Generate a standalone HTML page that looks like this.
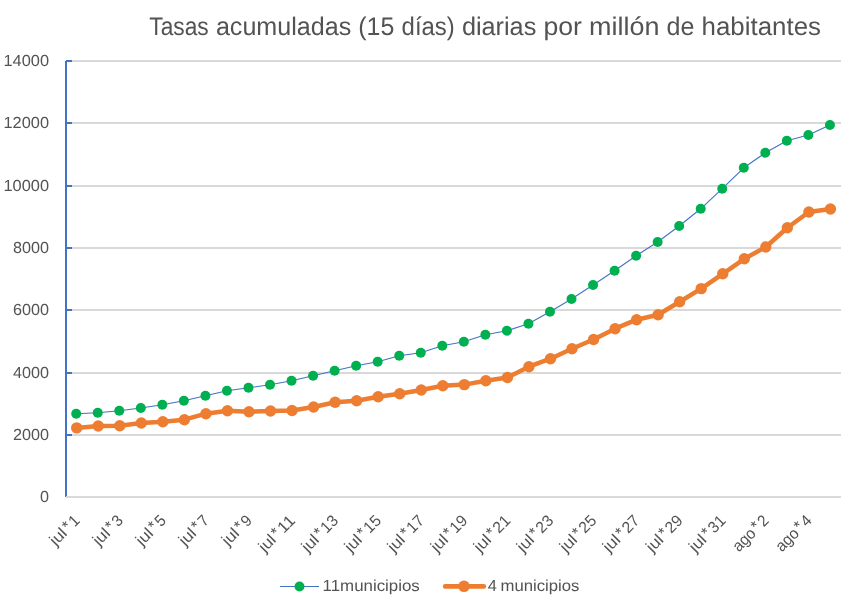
<!DOCTYPE html>
<html lang="es">
<head>
<meta charset="utf-8">
<title>Tasas acumuladas (15 días) diarias por millón de habitantes</title>
<style>
html,body{margin:0;padding:0;background:#fff;}
body{width:852px;height:604px;overflow:hidden;}
svg{display:block;}
text{font-family:"Liberation Sans",sans-serif;fill:#535353;text-rendering:geometricPrecision;}
</style>
</head>
<body>
<svg width="852" height="604" viewBox="0 0 852 604">
<rect x="0" y="0" width="852" height="604" fill="#ffffff"/>
<text y="35" font-size="25.4"><tspan x="149.3" textLength="59.4" lengthAdjust="spacingAndGlyphs">Tasas</tspan> <tspan x="215.9" textLength="135.3" lengthAdjust="spacingAndGlyphs">acumuladas</tspan> <tspan x="358.3" textLength="36.1" lengthAdjust="spacingAndGlyphs">(15</tspan> <tspan x="401.6" textLength="53.2" lengthAdjust="spacingAndGlyphs">días)</tspan> <tspan x="461.9" textLength="74.4" lengthAdjust="spacingAndGlyphs">diarias</tspan> <tspan x="543.4" textLength="38.5" lengthAdjust="spacingAndGlyphs">por</tspan> <tspan x="589.1" textLength="70.4" lengthAdjust="spacingAndGlyphs">millón</tspan> <tspan x="666.6" textLength="27.9" lengthAdjust="spacingAndGlyphs">de</tspan> <tspan x="701.6" textLength="119.4" lengthAdjust="spacingAndGlyphs">habitantes</tspan></text>
<g fill="#d9d9d9" shape-rendering="crispEdges">
<rect x="66" y="60" width="775" height="2"/>
<rect x="66" y="122" width="775" height="2"/>
<rect x="66" y="185" width="775" height="2"/>
<rect x="66" y="247" width="775" height="2"/>
<rect x="66" y="309" width="775" height="2"/>
<rect x="66" y="372" width="775" height="2"/>
<rect x="66" y="434" width="775" height="2"/>
</g>
<g fill="#4472c4" shape-rendering="crispEdges">
<rect x="65" y="61" width="1" height="436"/>
<rect x="66" y="60" width="1" height="436"/>
<rect x="66" y="60" width="6" height="2"/>
<rect x="66" y="122" width="6" height="2"/>
<rect x="66" y="185" width="6" height="2"/>
<rect x="66" y="247" width="6" height="2"/>
<rect x="66" y="309" width="6" height="2"/>
<rect x="66" y="372" width="6" height="2"/>
<rect x="66" y="434" width="6" height="2"/>
</g>
<rect x="66" y="496" width="775" height="2" fill="#d9d9d9" shape-rendering="crispEdges"/>
<g font-size="16" text-anchor="end">
<text x="49.0" y="66.0" textLength="45.5" lengthAdjust="spacingAndGlyphs">14000</text>
<text x="49.0" y="128.0" textLength="45.5" lengthAdjust="spacingAndGlyphs">12000</text>
<text x="49.0" y="191.0" textLength="45.5" lengthAdjust="spacingAndGlyphs">10000</text>
<text x="49.0" y="253.0" textLength="36.0" lengthAdjust="spacingAndGlyphs">8000</text>
<text x="49.0" y="315.0" textLength="36.0" lengthAdjust="spacingAndGlyphs">6000</text>
<text x="49.0" y="378.0" textLength="36.0" lengthAdjust="spacingAndGlyphs">4000</text>
<text x="49.0" y="440.0" textLength="36.0" lengthAdjust="spacingAndGlyphs">2000</text>
<text x="49.0" y="502.0" textLength="9.0" lengthAdjust="spacingAndGlyphs">0</text>
</g>
<g font-size="16">
<text transform="translate(81.06 521.30) rotate(-45)"><tspan x="-35.7" textLength="17.3" lengthAdjust="spacingAndGlyphs">jul</tspan><tspan x="-16.7" dy="-1.6">*</tspan><tspan x="-8.8" dy="1.6" textLength="8.5" lengthAdjust="spacingAndGlyphs">1</tspan></text>
<text transform="translate(124.12 521.30) rotate(-45)"><tspan x="-35.7" textLength="17.3" lengthAdjust="spacingAndGlyphs">jul</tspan><tspan x="-16.7" dy="-1.6">*</tspan><tspan x="-8.8" dy="1.6" textLength="8.5" lengthAdjust="spacingAndGlyphs">3</tspan></text>
<text transform="translate(167.18 521.30) rotate(-45)"><tspan x="-35.7" textLength="17.3" lengthAdjust="spacingAndGlyphs">jul</tspan><tspan x="-16.7" dy="-1.6">*</tspan><tspan x="-8.8" dy="1.6" textLength="8.5" lengthAdjust="spacingAndGlyphs">5</tspan></text>
<text transform="translate(210.23 521.30) rotate(-45)"><tspan x="-35.7" textLength="17.3" lengthAdjust="spacingAndGlyphs">jul</tspan><tspan x="-16.7" dy="-1.6">*</tspan><tspan x="-8.8" dy="1.6" textLength="8.5" lengthAdjust="spacingAndGlyphs">7</tspan></text>
<text transform="translate(253.29 521.30) rotate(-45)"><tspan x="-35.7" textLength="17.3" lengthAdjust="spacingAndGlyphs">jul</tspan><tspan x="-16.7" dy="-1.6">*</tspan><tspan x="-8.8" dy="1.6" textLength="8.5" lengthAdjust="spacingAndGlyphs">9</tspan></text>
<text transform="translate(296.34 521.30) rotate(-45)"><tspan x="-44.8" textLength="17.3" lengthAdjust="spacingAndGlyphs">jul</tspan><tspan x="-25.8" dy="-1.6">*</tspan><tspan x="-17.9" dy="1.6" textLength="17.6" lengthAdjust="spacingAndGlyphs">11</tspan></text>
<text transform="translate(339.40 521.30) rotate(-45)"><tspan x="-44.8" textLength="17.3" lengthAdjust="spacingAndGlyphs">jul</tspan><tspan x="-25.8" dy="-1.6">*</tspan><tspan x="-17.9" dy="1.6" textLength="17.6" lengthAdjust="spacingAndGlyphs">13</tspan></text>
<text transform="translate(382.45 521.30) rotate(-45)"><tspan x="-44.8" textLength="17.3" lengthAdjust="spacingAndGlyphs">jul</tspan><tspan x="-25.8" dy="-1.6">*</tspan><tspan x="-17.9" dy="1.6" textLength="17.6" lengthAdjust="spacingAndGlyphs">15</tspan></text>
<text transform="translate(425.51 521.30) rotate(-45)"><tspan x="-44.8" textLength="17.3" lengthAdjust="spacingAndGlyphs">jul</tspan><tspan x="-25.8" dy="-1.6">*</tspan><tspan x="-17.9" dy="1.6" textLength="17.6" lengthAdjust="spacingAndGlyphs">17</tspan></text>
<text transform="translate(468.56 521.30) rotate(-45)"><tspan x="-44.8" textLength="17.3" lengthAdjust="spacingAndGlyphs">jul</tspan><tspan x="-25.8" dy="-1.6">*</tspan><tspan x="-17.9" dy="1.6" textLength="17.6" lengthAdjust="spacingAndGlyphs">19</tspan></text>
<text transform="translate(511.62 521.30) rotate(-45)"><tspan x="-44.8" textLength="17.3" lengthAdjust="spacingAndGlyphs">jul</tspan><tspan x="-25.8" dy="-1.6">*</tspan><tspan x="-17.9" dy="1.6" textLength="17.6" lengthAdjust="spacingAndGlyphs">21</tspan></text>
<text transform="translate(554.67 521.30) rotate(-45)"><tspan x="-44.8" textLength="17.3" lengthAdjust="spacingAndGlyphs">jul</tspan><tspan x="-25.8" dy="-1.6">*</tspan><tspan x="-17.9" dy="1.6" textLength="17.6" lengthAdjust="spacingAndGlyphs">23</tspan></text>
<text transform="translate(597.73 521.30) rotate(-45)"><tspan x="-44.8" textLength="17.3" lengthAdjust="spacingAndGlyphs">jul</tspan><tspan x="-25.8" dy="-1.6">*</tspan><tspan x="-17.9" dy="1.6" textLength="17.6" lengthAdjust="spacingAndGlyphs">25</tspan></text>
<text transform="translate(640.79 521.30) rotate(-45)"><tspan x="-44.8" textLength="17.3" lengthAdjust="spacingAndGlyphs">jul</tspan><tspan x="-25.8" dy="-1.6">*</tspan><tspan x="-17.9" dy="1.6" textLength="17.6" lengthAdjust="spacingAndGlyphs">27</tspan></text>
<text transform="translate(683.84 521.30) rotate(-45)"><tspan x="-44.8" textLength="17.3" lengthAdjust="spacingAndGlyphs">jul</tspan><tspan x="-25.8" dy="-1.6">*</tspan><tspan x="-17.9" dy="1.6" textLength="17.6" lengthAdjust="spacingAndGlyphs">29</tspan></text>
<text transform="translate(726.90 521.30) rotate(-45)"><tspan x="-44.8" textLength="17.3" lengthAdjust="spacingAndGlyphs">jul</tspan><tspan x="-25.8" dy="-1.6">*</tspan><tspan x="-17.9" dy="1.6" textLength="17.6" lengthAdjust="spacingAndGlyphs">31</tspan></text>
<text transform="translate(769.95 521.30) rotate(-45)"><tspan x="-44.3" textLength="25.9" lengthAdjust="spacingAndGlyphs">ago</tspan><tspan x="-16.7" dy="-1.6">*</tspan><tspan x="-8.8" dy="1.6" textLength="8.5" lengthAdjust="spacingAndGlyphs">2</tspan></text>
<text transform="translate(813.01 521.30) rotate(-45)"><tspan x="-44.3" textLength="25.9" lengthAdjust="spacingAndGlyphs">ago</tspan><tspan x="-16.7" dy="-1.6">*</tspan><tspan x="-8.8" dy="1.6" textLength="8.5" lengthAdjust="spacingAndGlyphs">4</tspan></text>
</g>
<polyline points="76.20,413.80 97.73,412.80 119.27,410.80 140.81,408.00 162.34,404.70 183.88,400.80 205.41,395.80 226.94,390.80 248.48,387.80 270.01,384.70 291.55,380.80 313.08,375.70 334.62,370.80 356.15,365.80 377.69,361.70 399.22,355.70 420.76,352.80 442.30,345.80 463.83,341.70 485.37,334.80 506.90,330.80 528.44,323.80 549.97,311.70 571.50,299.00 593.04,285.00 614.58,270.80 636.11,255.80 657.65,242.00 679.18,226.00 700.72,208.80 722.25,188.70 743.79,167.80 765.32,152.80 786.86,140.80 808.39,135.00 829.93,125.00" fill="none" stroke="#4472c4" stroke-width="1.1" stroke-linejoin="round"/>
<g fill="#00b050">
<circle cx="76.20" cy="413.80" r="5"/>
<circle cx="97.73" cy="412.80" r="5"/>
<circle cx="119.27" cy="410.80" r="5"/>
<circle cx="140.81" cy="408.00" r="5"/>
<circle cx="162.34" cy="404.70" r="5"/>
<circle cx="183.88" cy="400.80" r="5"/>
<circle cx="205.41" cy="395.80" r="5"/>
<circle cx="226.94" cy="390.80" r="5"/>
<circle cx="248.48" cy="387.80" r="5"/>
<circle cx="270.01" cy="384.70" r="5"/>
<circle cx="291.55" cy="380.80" r="5"/>
<circle cx="313.08" cy="375.70" r="5"/>
<circle cx="334.62" cy="370.80" r="5"/>
<circle cx="356.15" cy="365.80" r="5"/>
<circle cx="377.69" cy="361.70" r="5"/>
<circle cx="399.22" cy="355.70" r="5"/>
<circle cx="420.76" cy="352.80" r="5"/>
<circle cx="442.30" cy="345.80" r="5"/>
<circle cx="463.83" cy="341.70" r="5"/>
<circle cx="485.37" cy="334.80" r="5"/>
<circle cx="506.90" cy="330.80" r="5"/>
<circle cx="528.44" cy="323.80" r="5"/>
<circle cx="549.97" cy="311.70" r="5"/>
<circle cx="571.50" cy="299.00" r="5"/>
<circle cx="593.04" cy="285.00" r="5"/>
<circle cx="614.58" cy="270.80" r="5"/>
<circle cx="636.11" cy="255.80" r="5"/>
<circle cx="657.65" cy="242.00" r="5"/>
<circle cx="679.18" cy="226.00" r="5"/>
<circle cx="700.72" cy="208.80" r="5"/>
<circle cx="722.25" cy="188.70" r="5"/>
<circle cx="743.79" cy="167.80" r="5"/>
<circle cx="765.32" cy="152.80" r="5"/>
<circle cx="786.86" cy="140.80" r="5"/>
<circle cx="808.39" cy="135.00" r="5"/>
<circle cx="829.93" cy="125.00" r="5"/>
</g>
<polyline points="76.70,427.90 98.23,426.00 119.77,425.70 141.31,423.00 162.84,421.70 184.38,419.70 205.91,413.70 227.44,410.70 248.98,411.80 270.51,411.00 292.05,410.50 313.58,407.00 335.12,402.20 356.65,400.80 378.19,396.70 399.72,393.80 421.26,390.00 442.80,385.80 464.33,384.60 485.87,380.80 507.40,377.50 528.94,366.70 550.47,358.70 572.00,348.70 593.54,339.50 615.08,328.70 636.61,319.70 658.15,314.70 679.68,301.70 701.22,288.60 722.75,273.80 744.29,258.80 765.82,247.00 787.36,227.80 808.89,212.00 830.43,209.00" fill="none" stroke="#ed7d31" stroke-width="4.5" stroke-linejoin="round" stroke-linecap="round"/>
<g fill="#ed7d31">
<circle cx="76.70" cy="427.90" r="5.7"/>
<circle cx="98.23" cy="426.00" r="5.7"/>
<circle cx="119.77" cy="425.70" r="5.7"/>
<circle cx="141.31" cy="423.00" r="5.7"/>
<circle cx="162.84" cy="421.70" r="5.7"/>
<circle cx="184.38" cy="419.70" r="5.7"/>
<circle cx="205.91" cy="413.70" r="5.7"/>
<circle cx="227.44" cy="410.70" r="5.7"/>
<circle cx="248.98" cy="411.80" r="5.7"/>
<circle cx="270.51" cy="411.00" r="5.7"/>
<circle cx="292.05" cy="410.50" r="5.7"/>
<circle cx="313.58" cy="407.00" r="5.7"/>
<circle cx="335.12" cy="402.20" r="5.7"/>
<circle cx="356.65" cy="400.80" r="5.7"/>
<circle cx="378.19" cy="396.70" r="5.7"/>
<circle cx="399.72" cy="393.80" r="5.7"/>
<circle cx="421.26" cy="390.00" r="5.7"/>
<circle cx="442.80" cy="385.80" r="5.7"/>
<circle cx="464.33" cy="384.60" r="5.7"/>
<circle cx="485.87" cy="380.80" r="5.7"/>
<circle cx="507.40" cy="377.50" r="5.7"/>
<circle cx="528.94" cy="366.70" r="5.7"/>
<circle cx="550.47" cy="358.70" r="5.7"/>
<circle cx="572.00" cy="348.70" r="5.7"/>
<circle cx="593.54" cy="339.50" r="5.7"/>
<circle cx="615.08" cy="328.70" r="5.7"/>
<circle cx="636.61" cy="319.70" r="5.7"/>
<circle cx="658.15" cy="314.70" r="5.7"/>
<circle cx="679.68" cy="301.70" r="5.7"/>
<circle cx="701.22" cy="288.60" r="5.7"/>
<circle cx="722.75" cy="273.80" r="5.7"/>
<circle cx="744.29" cy="258.80" r="5.7"/>
<circle cx="765.82" cy="247.00" r="5.7"/>
<circle cx="787.36" cy="227.80" r="5.7"/>
<circle cx="808.89" cy="212.00" r="5.7"/>
<circle cx="830.43" cy="209.00" r="5.7"/>
</g>
<line x1="280" y1="586.5" x2="319" y2="586.5" stroke="#4472c4" stroke-width="1.1"/>
<circle cx="299.5" cy="586.5" r="5" fill="#00b050"/>
<text x="322.6" y="591" font-size="16" textLength="97.2" lengthAdjust="spacingAndGlyphs">11municipios</text>
<line x1="445.2" y1="586.4" x2="483.8" y2="586.4" stroke="#ed7d31" stroke-width="4.7" stroke-linecap="round"/>
<circle cx="464" cy="586.3" r="5.8" fill="#ed7d31"/>
<text y="591" font-size="16"><tspan x="487.7" textLength="9.1" lengthAdjust="spacingAndGlyphs">4</tspan> <tspan x="500.5" textLength="78.9" lengthAdjust="spacingAndGlyphs">municipios</tspan></text>
</svg>
</body>
</html>
